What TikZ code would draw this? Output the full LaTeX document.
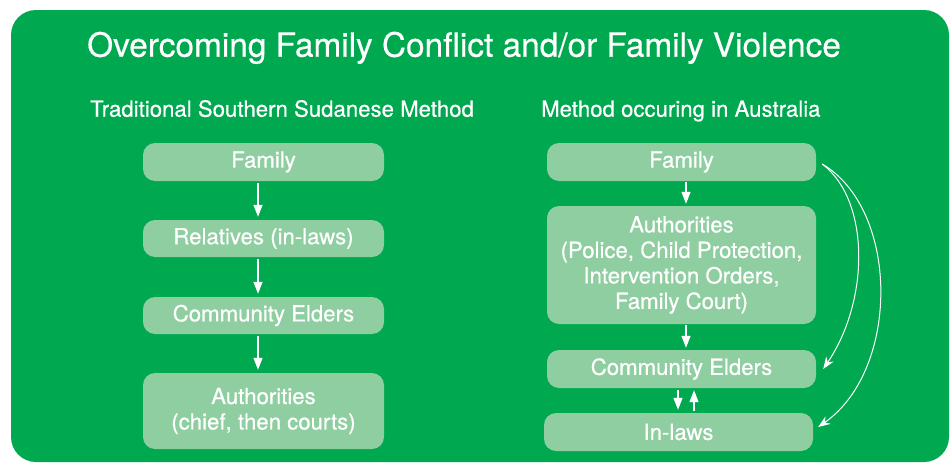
\documentclass[tikz,border=0pt]{standalone}
\usepackage{fontspec}
\setmainfont{TeX Gyre Heros}[FakeBold=0.5]
\usetikzlibrary{arrows.meta}
\definecolor{panelgreen}{RGB}{0,168,80}
\definecolor{boxgreen}{RGB}{143,206,160}
\tikzset{
  stepbox/.style={fill=boxgreen, draw=none, rounded corners=12pt, text=white,
    align=center, inner sep=0pt, font=\fontsize{22.2}{25.5}\selectfont},
  flow/.style={draw=white, line width=1.3pt, -{Triangle[length=12pt,width=9pt]}},
  bypass/.style={draw=white, line width=1pt, -{Stealth[length=12pt,width=9pt]}},
  heading/.style={text=white, inner sep=0pt, anchor=base west},
}
\begin{document}
\begin{tikzpicture}[x=1pt,y=-1pt]
\useasboundingbox (0,0) rectangle (951,463);
% green panel
\fill[panelgreen, rounded corners=25pt] (11,10) rectangle (949,462);

% headings
\node[heading, font=\fontsize{33.4}{38}\selectfont] (title) at (87,56.7)
  {Overcoming Family Conflict and/or Family Violence};
\node[heading, font=\fontsize{22.2}{25.5}\selectfont] (lhead) at (90,116.7)
  {Traditional Southern Sudanese Method};
\node[heading, font=\fontsize{22.2}{25.5}\selectfont] (rhead) at (541,116.7)
  {Method occuring in Australia};

% traditional method
\node[stepbox, minimum width=241pt, minimum height=38pt] (lfam) at (263.5,162) {Family};
\node[stepbox, minimum width=241pt, minimum height=37pt] (lrel) at (263.5,238.5) {Relatives (in-laws)};
\node[stepbox, minimum width=241pt, minimum height=37pt] (lce) at (263.5,315.5) {Community Elders};
\node[stepbox, minimum width=241pt, minimum height=76pt] (lauth) at (263.5,411) {Authorities\\(chief, then courts)};

\draw[flow, shorten <=2pt, shorten >=3pt] ([xshift=-5.5pt]lfam.south) -- ([xshift=-5.5pt]lrel.north);
\draw[flow, shorten <=2pt, shorten >=3pt] ([xshift=-5.5pt]lrel.south) -- ([xshift=-5.5pt]lce.north);
\draw[flow, shorten <=2pt, shorten >=3pt] ([xshift=-5.5pt]lce.south) -- ([xshift=-5.5pt]lauth.north);

% method in Australia
\node[stepbox, minimum width=269pt, minimum height=38pt] (rfam) at (681.5,162) {Family};
\node[stepbox, minimum width=269pt, minimum height=118pt] (rauth) at (681.5,265)
  {Authorities\\(Police, Child Protection,\\Intervention Orders,\\Family Court)};
\node[stepbox, minimum width=269pt, minimum height=38pt] (rce) at (681.5,369) {Community Elders};
\node[stepbox, minimum width=269pt, minimum height=38pt] (rin) at (678.5,432) {In-laws};

\draw[flow, shorten <=1pt, shorten >=2pt] ([xshift=4.5pt]rfam.south) -- ([xshift=4.5pt]rauth.north);
\draw[flow, shorten <=1pt, shorten >=2pt] ([xshift=4.5pt]rauth.south) -- ([xshift=4.5pt]rce.north);
\draw[flow, shorten <=2pt, shorten >=3pt] ([xshift=-3.5pt]rce.south) -- ([xshift=-0.5pt]rin.north);
\draw[flow, shorten <=2pt, shorten >=2pt] ([xshift=15.5pt]rin.north) -- ([xshift=12.5pt]rce.south);

% direct routes from the family
\coordinate (fstart) at ([xshift=6pt,yshift=-2pt]rfam.east);
\coordinate (ceend) at ([xshift=7pt]rce.east);
\coordinate (inend) at ([xshift=5pt,yshift=5pt]rin.east);
\draw[bypass] (fstart) .. controls (870,200) and (870,300) .. (ceend);
\draw[bypass] (fstart) .. controls (900,210) and (900,370) .. (inend);
\end{tikzpicture}
\end{document}
